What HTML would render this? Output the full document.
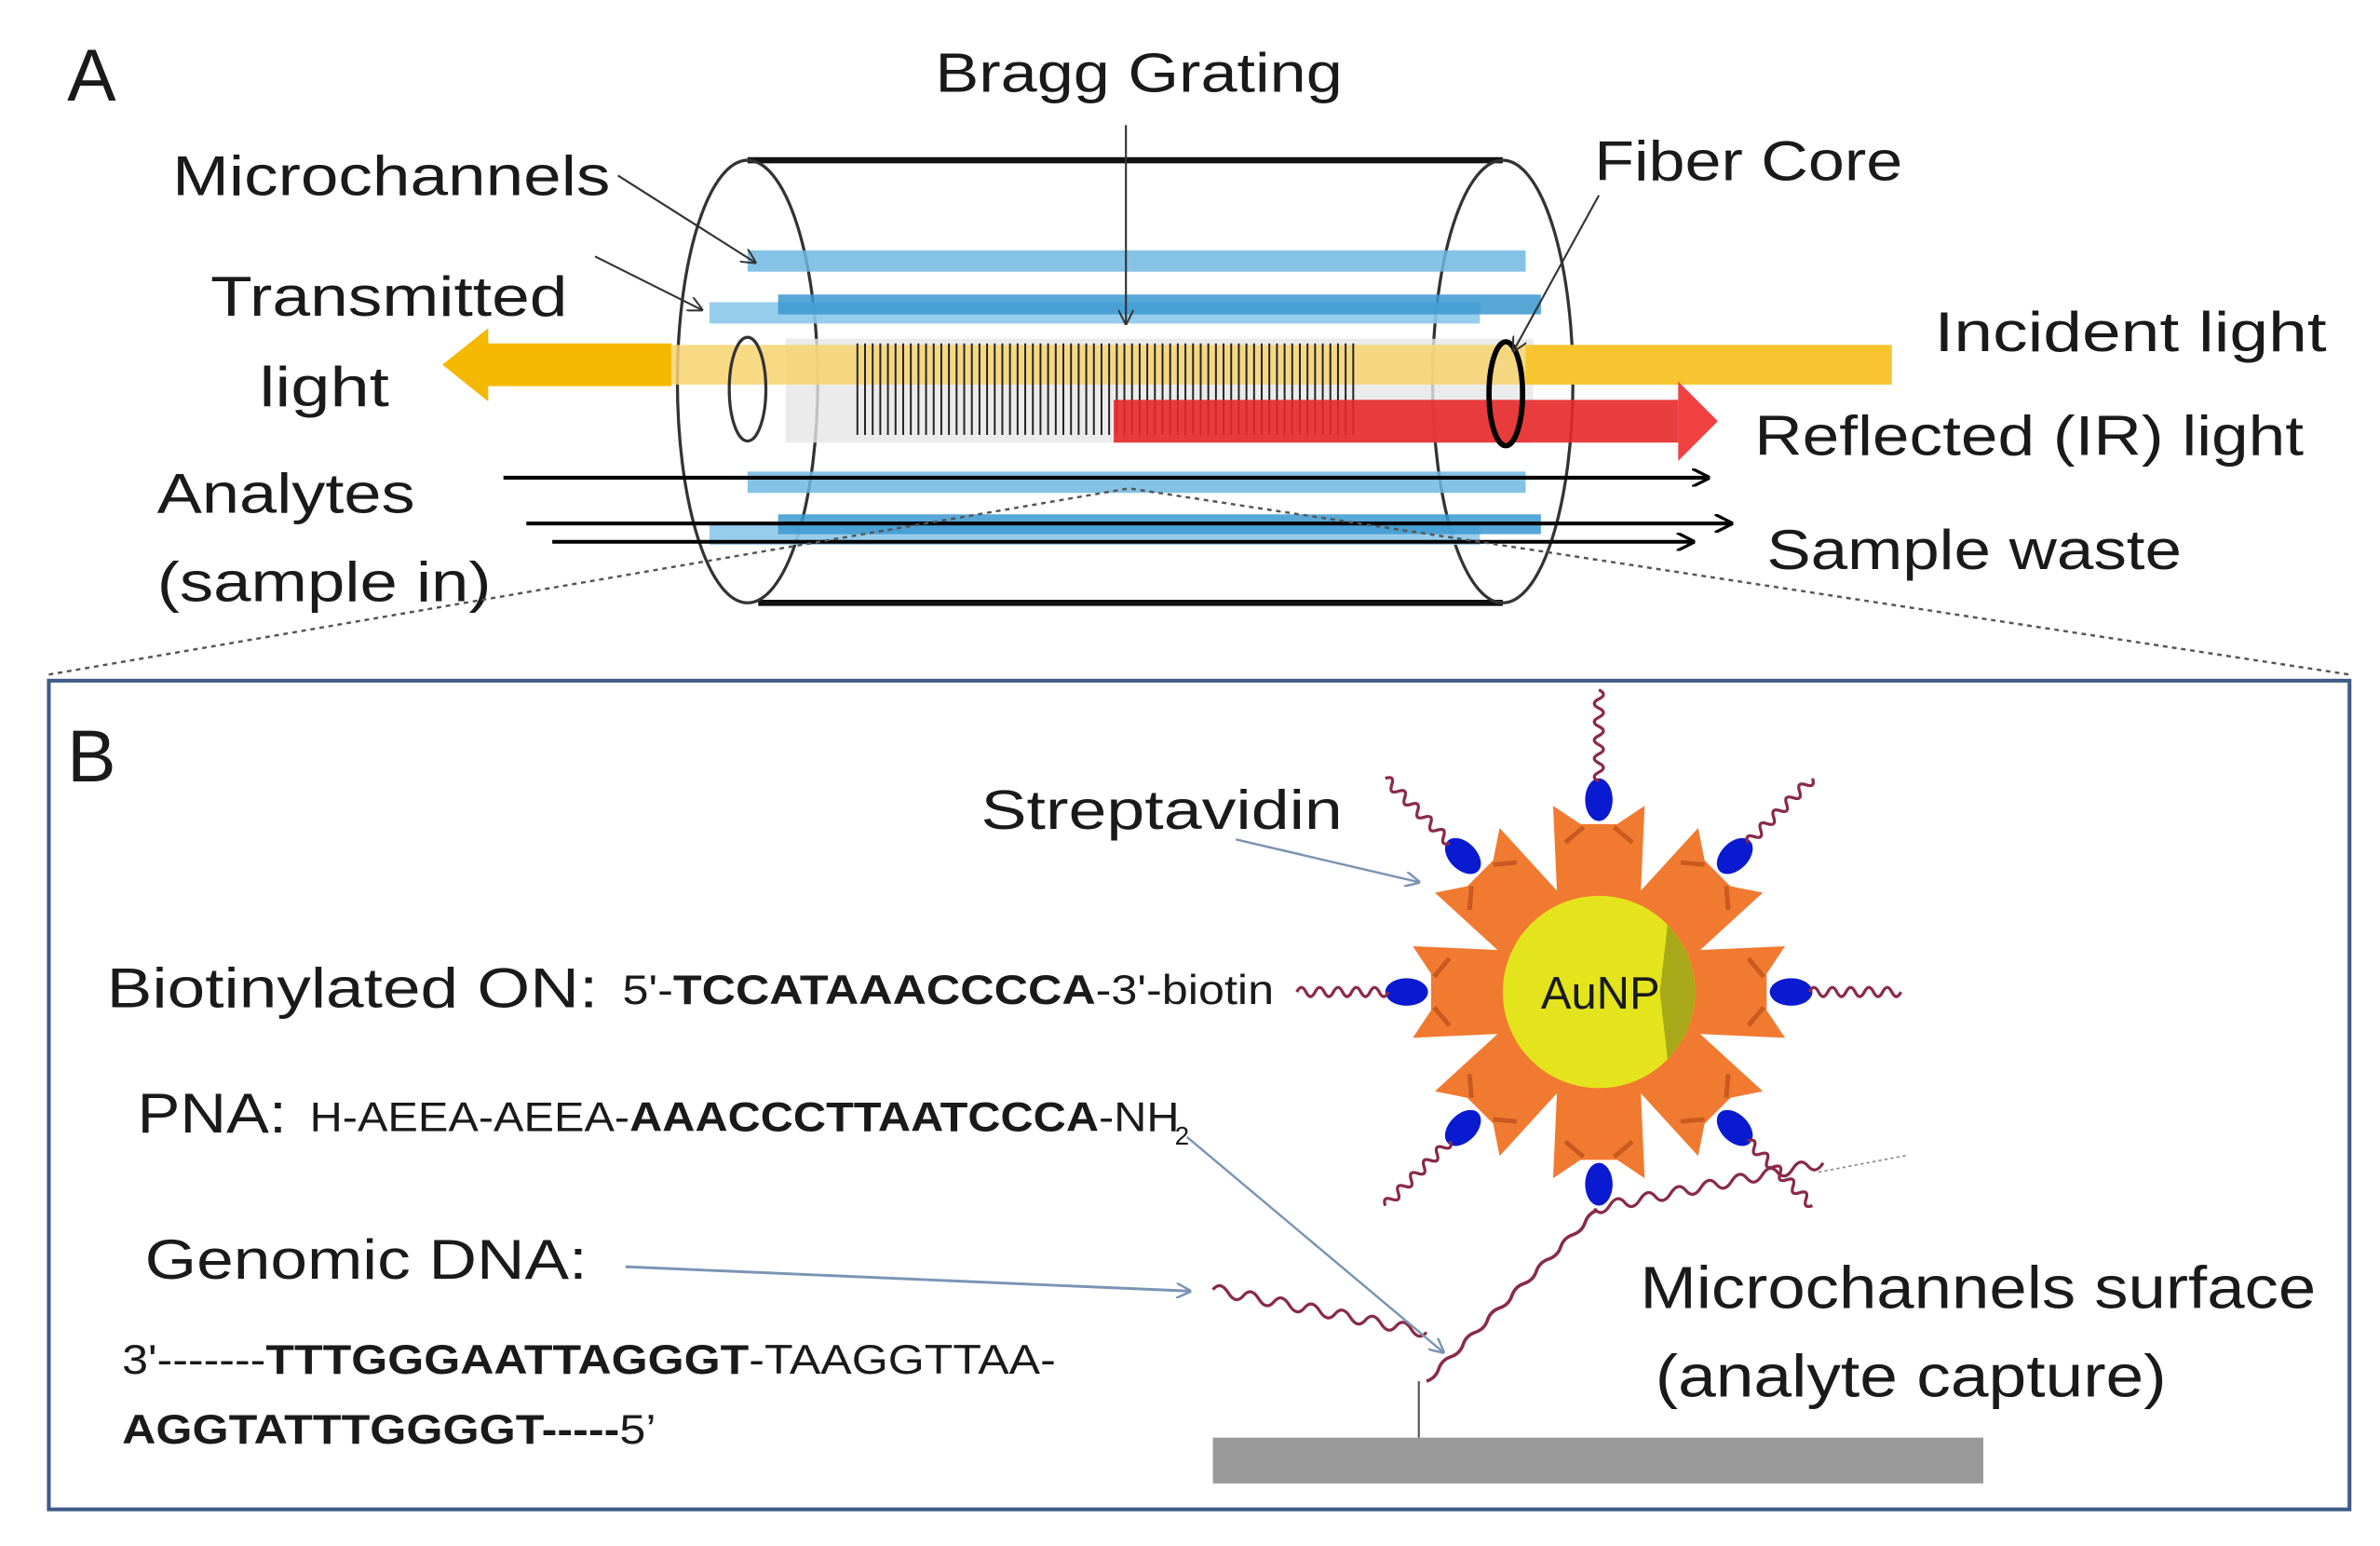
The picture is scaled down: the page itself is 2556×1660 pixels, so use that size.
<!DOCTYPE html>
<html><head><meta charset="utf-8"><style>
html,body{margin:0;padding:0;background:#fff;}
svg{display:block;}
text{font-family:"Liberation Sans",sans-serif;fill:#1a1a1a;}
</style></head><body>
<svg width="2556" height="1660" viewBox="0 0 1560 1013" preserveAspectRatio="none" xmlns="http://www.w3.org/2000/svg">
<defs>
<marker id="ab" markerWidth="10" markerHeight="10" refX="9" refY="5" orient="auto" markerUnits="userSpaceOnUse"><path d="M0,0 L10,5 L0,10" fill="none" stroke="#7a94b4" stroke-width="1.5"/></marker>
<marker id="ak" markerWidth="12" markerHeight="12" refX="11" refY="6" orient="auto" markerUnits="userSpaceOnUse"><path d="M0,0 L12,6 L0,12" fill="none" stroke="#000" stroke-width="2"/></marker>
<marker id="ak2" markerWidth="10" markerHeight="10" refX="9" refY="5" orient="auto" markerUnits="userSpaceOnUse"><path d="M0,0 L10,5 L0,10" fill="none" stroke="#333" stroke-width="1.2"/></marker>
<path id="wv" d="M0,0 q3,-6 6,0 t6,0 t6,0 t6,0 t6,0 t6,0 t6,0 t6,0 t6,0 t6,0" fill="none" stroke="#8a2a4a" stroke-width="2"/>
<g id="blk">
<path d="M55,-27 L122,-30 L110,-12 L110,12 L122,30 L55,27 Z" fill="#f07a30"/>
<path d="M98,-22 L108,-10 M98,22 L108,10" stroke="#c85a20" stroke-width="3"/>
<ellipse cx="126" cy="0" rx="14" ry="9" fill="#0a1ad0"/>
</g>
<g id="arm">
<use href="#blk"/>
<use href="#wv" x="138" y="0"/>
</g>
</defs>

<!-- Panel A -->
<text x="44" y="66" font-size="48">A</text>
<text x="613" y="60" font-size="36" textLength="267" lengthAdjust="spacingAndGlyphs">Bragg Grating</text>

<line x1="490" y1="105" x2="985" y2="105" stroke="#111" stroke-width="4"/>
<line x1="497" y1="395" x2="985" y2="395" stroke="#111" stroke-width="4"/>
<ellipse cx="490" cy="250" rx="46" ry="145" fill="none" stroke="#333" stroke-width="2"/>
<ellipse cx="985" cy="250" rx="46" ry="145" fill="none" stroke="#333" stroke-width="2"/>

<rect x="515" y="222" width="490" height="68" fill="#e6e6e6" opacity="0.8"/>
<rect x="440" y="226" width="800" height="26" fill="#f7d470" opacity="0.85"/>
<rect x="1000" y="226" width="240" height="26" fill="#f6c530"/>
<polygon points="440,225 320,225 320,215 290,239 320,263 320,253 440,253" fill="#f4b800"/>
<g stroke="#222" stroke-width="1.2">
<path d="M562,225 V285 M567,225 V285 M572,225 V285 M577,225 V285 M582,225 V285 M587,225 V285 M592,225 V285 M597,225 V285 M602,225 V285 M607,225 V285 M612,225 V285 M617,225 V285 M622,225 V285 M627,225 V285 M632,225 V285 M637,225 V285 M642,225 V285 M647,225 V285 M652,225 V285 M657,225 V285 M662,225 V285 M667,225 V285 M672,225 V285 M677,225 V285 M682,225 V285 M687,225 V285 M692,225 V285 M697,225 V285 M702,225 V285 M707,225 V285 M712,225 V285 M717,225 V285 M722,225 V285 M727,225 V285 M732,225 V285 M737,225 V285 M742,225 V285 M747,225 V285 M752,225 V285 M757,225 V285 M762,225 V285 M767,225 V285 M772,225 V285 M777,225 V285 M782,225 V285 M787,225 V285 M792,225 V285 M797,225 V285 M802,225 V285 M807,225 V285 M812,225 V285 M817,225 V285 M822,225 V285 M827,225 V285 M832,225 V285 M837,225 V285 M842,225 V285 M847,225 V285 M852,225 V285 M857,225 V285 M862,225 V285 M867,225 V285 M872,225 V285 M877,225 V285 M882,225 V285 M887,225 V285"/>
</g>
<rect x="730" y="262" width="370" height="28" fill="#e82828" opacity="0.9"/>
<polygon points="1100,250 1126,276 1100,302" fill="#f04040"/>
<ellipse cx="490" cy="255" rx="12" ry="34" fill="none" stroke="#333" stroke-width="2"/>
<ellipse cx="987" cy="258" rx="11" ry="34" fill="none" stroke="#000" stroke-width="3.5"/>

<g>
<rect x="490" y="164" width="510" height="14" fill="#6fb8e0" opacity="0.85"/>
<rect x="465" y="198" width="505" height="14" fill="#8cc8ea" opacity="0.9"/>
<rect x="510" y="193" width="500" height="13" fill="#3a98d0" opacity="0.85"/>
<rect x="490" y="309" width="510" height="14" fill="#6fb8e0" opacity="0.85"/>
<rect x="465" y="343" width="505" height="14" fill="#8cc8ea" opacity="0.9"/>
<rect x="510" y="337" width="500" height="13" fill="#3a98d0" opacity="0.85"/>
</g>
<line x1="330" y1="313" x2="1120" y2="313" stroke="#000" stroke-width="2.5" marker-end="url(#ak)"/>
<line x1="345" y1="343" x2="1135" y2="343" stroke="#000" stroke-width="2.5" marker-end="url(#ak)"/>
<line x1="362" y1="355" x2="1110" y2="355" stroke="#000" stroke-width="2.5" marker-end="url(#ak)"/>

<line x1="405" y1="115" x2="495" y2="172" stroke="#333" stroke-width="1.3" marker-end="url(#ak2)"/>
<line x1="390" y1="168" x2="460" y2="203" stroke="#333" stroke-width="1.3" marker-end="url(#ak2)"/>
<line x1="738" y1="82" x2="738" y2="212" stroke="#333" stroke-width="1.3" marker-end="url(#ak2)"/>
<line x1="1048" y1="128" x2="992" y2="230" stroke="#333" stroke-width="1.3" marker-end="url(#ak2)"/>

<text x="113" y="128" font-size="37" textLength="287" lengthAdjust="spacingAndGlyphs">Microchannels</text>
<text x="138" y="207" font-size="37" textLength="234" lengthAdjust="spacingAndGlyphs">Transmitted</text>
<text x="170" y="266" font-size="37" textLength="85" lengthAdjust="spacingAndGlyphs">light</text>
<text x="103" y="336" font-size="37" textLength="169" lengthAdjust="spacingAndGlyphs">Analytes</text>
<text x="103" y="394" font-size="37" textLength="219" lengthAdjust="spacingAndGlyphs">(sample in)</text>
<text x="1045" y="118" font-size="37" textLength="202" lengthAdjust="spacingAndGlyphs">Fiber Core</text>
<text x="1268" y="230" font-size="37" textLength="257" lengthAdjust="spacingAndGlyphs">Incident light</text>
<text x="1150" y="298" font-size="37" textLength="360" lengthAdjust="spacingAndGlyphs">Reflected (IR) light</text>
<text x="1158" y="373" font-size="37" textLength="272" lengthAdjust="spacingAndGlyphs">Sample waste</text>

<path d="M32,442 L740,320 L1540,442" fill="none" stroke="#555" stroke-width="1.5" stroke-dasharray="3,3"/>

<!-- Panel B -->
<rect x="32" y="446" width="1508" height="543" fill="#fff" stroke="#3e5c88" stroke-width="2.5"/>
<text x="44" y="512" font-size="48">B</text>

<text x="643" y="543" font-size="36" textLength="237" lengthAdjust="spacingAndGlyphs">Streptavidin</text>
<text x="70" y="660" font-size="37" textLength="322" lengthAdjust="spacingAndGlyphs">Biotinylated ON:</text>
<text x="408" y="658" font-size="27" textLength="427" lengthAdjust="spacingAndGlyphs">5'-<tspan font-weight="bold">TCCATAAACCCCA</tspan>-3'-biotin</text>
<text x="90" y="742" font-size="37" textLength="98" lengthAdjust="spacingAndGlyphs">PNA:</text>
<text x="203" y="741" font-size="27" textLength="570" lengthAdjust="spacingAndGlyphs">H-AEEA-AEEA-<tspan font-weight="bold">AAACCCTTAATCCCA</tspan>-NH</text>
<text x="770" y="750" font-size="17">2</text>
<text x="95" y="838" font-size="37" textLength="290" lengthAdjust="spacingAndGlyphs">Genomic DNA:</text>
<text x="80" y="900" font-size="27" textLength="612" lengthAdjust="spacingAndGlyphs">3'-------<tspan font-weight="bold">TTTGGGAATTAGGGT</tspan>-TAAGGTTAA-</text>
<text x="80" y="946" font-size="27" textLength="350" lengthAdjust="spacingAndGlyphs"><tspan font-weight="bold">AGGTATTTGGGGT-----</tspan>5’</text>
<text x="1075" y="857" font-size="39" textLength="443" lengthAdjust="spacingAndGlyphs">Microchannels surface</text>
<text x="1085" y="915" font-size="39" textLength="335" lengthAdjust="spacingAndGlyphs">(analyte capture)</text>

<rect x="795" y="942" width="505" height="30" fill="#9a9a9a"/>
<line x1="930" y1="905" x2="930" y2="942" stroke="#555" stroke-width="1.3"/>

<path d="M795,845 q5,-6 10,2 t10,2 t10,2 t10,2 t10,2 t10,2 t10,2 t10,2 t10,2 t10,2 t10,2 t10,2 t10,2 t10,2" fill="none" stroke="#8a2a4a" stroke-width="2"/>
<path d="M935,905 q6,-2 8,-8 t8,-8 t8,-8 t8,-8 t8,-8 t8,-8 t8,-8 t8,-8 t8,-8 t8,-8 t8,-8 t8,-8 t8,-8 t8,-8" fill="none" stroke="#8a2a4a" stroke-width="2.2"/>
<path d="M1045,792 q5,6 10,-2 t10,-2 t10,-2 t10,-2 t10,-2 t10,-2 t10,-2 t10,-2 t10,-2 t10,-2 t10,-2 t10,-2 t10,-2 t10,-2 t10,-2" fill="none" stroke="#8a2a4a" stroke-width="2"/>
<line x1="1192" y1="768" x2="1250" y2="757" stroke="#888" stroke-width="1" stroke-dasharray="2,2"/>

<g transform="translate(1048,650)">
<use href="#arm" transform="rotate(0)"/>
<use href="#arm" transform="rotate(45)"/>
<use href="#blk" transform="rotate(90)"/>
<use href="#arm" transform="rotate(135)"/>
<use href="#arm" transform="rotate(180)"/>
<use href="#arm" transform="rotate(-135)"/>
<use href="#arm" transform="rotate(-90)"/>
<use href="#arm" transform="rotate(-45)"/>
<circle cx="0" cy="0" r="63" fill="#e4e41c"/>
<path d="M45,-44 A63,63 0 0 1 45,44 L40,0 Z" fill="#a8a818"/>
<text x="-38" y="11" font-size="30" textLength="78" lengthAdjust="spacingAndGlyphs">AuNP</text>
</g>

<line x1="810" y1="550" x2="930" y2="578" stroke="#7a94b4" stroke-width="1.5" marker-end="url(#ab)"/>
<line x1="410" y1="830" x2="780" y2="846" stroke="#7a94b4" stroke-width="1.8" marker-end="url(#ab)"/>
<line x1="778" y1="745" x2="946" y2="886" stroke="#7a94b4" stroke-width="1.5" marker-end="url(#ab)"/>
</svg>
</body></html>
